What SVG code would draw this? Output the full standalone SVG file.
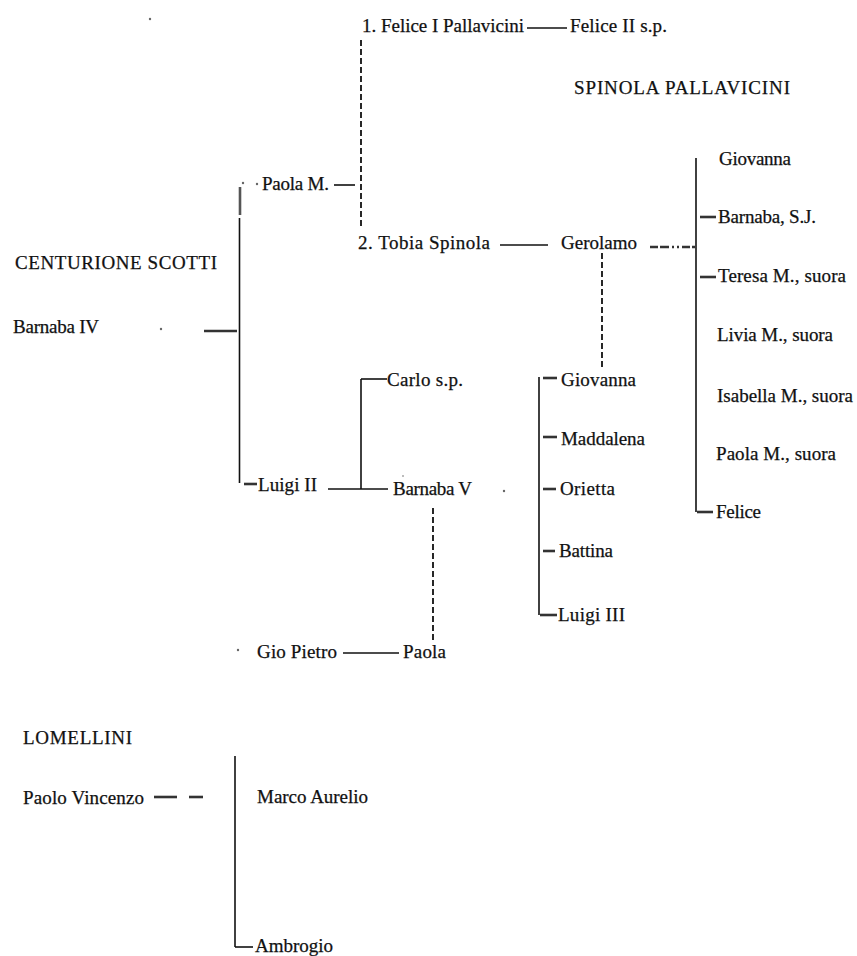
<svg xmlns="http://www.w3.org/2000/svg" width="857" height="956" viewBox="0 0 857 956">
<style>
.t text{font-size:19px;fill:#111;stroke:#111;stroke-width:0.25}
.ln{stroke:#111;stroke-width:1.6;fill:none}
.tk{stroke:#333;stroke-width:2.6;fill:none}
.ds{stroke:#111;stroke-width:1.8;fill:none;stroke-dasharray:6,3}
.dt{fill:#666}
</style>
<rect width="857" height="956" fill="#fff"/>
<g id="connectors">
  <line class="ln" x1="527" y1="28" x2="567" y2="28"/>
  <line class="ds" x1="361" y1="40" x2="361" y2="227"/>
  <line class="ln" x1="334" y1="185" x2="355" y2="185"/>
  <line x1="240" y1="187" x2="240" y2="215" stroke="#555" stroke-width="2.6"/>
  <line class="ln" x1="239.5" y1="218" x2="239.5" y2="483"/>
  <line class="tk" x1="244" y1="484" x2="257" y2="484"/>
  <line class="tk" x1="204" y1="331" x2="237" y2="331"/>
  <line class="ln" x1="500" y1="245" x2="548" y2="245"/>
  <line x1="650" y1="247" x2="695" y2="247" stroke="#333" stroke-width="2.4" stroke-dasharray="8,2,9,3,2,3,2,3"/>
  <line class="ln" x1="696" y1="158" x2="696" y2="512"/>
  <line class="tk" x1="700" y1="217" x2="716" y2="217"/>
  <line class="tk" x1="700" y1="277" x2="716" y2="277"/>
  <line class="tk" x1="697" y1="512" x2="713" y2="512"/>
  <line class="ds" x1="602" y1="253" x2="602" y2="368" stroke-dasharray="5,2"/>
  <line class="ln" x1="539" y1="377" x2="539" y2="615"/>
  <line class="tk" x1="543" y1="378" x2="557" y2="378"/>
  <line class="tk" x1="543" y1="437" x2="557" y2="437"/>
  <line class="tk" x1="543" y1="489" x2="556" y2="489"/>
  <line class="tk" x1="543" y1="551" x2="555" y2="551"/>
  <line class="tk" x1="540" y1="615" x2="557" y2="615"/>
  <line class="ln" x1="328" y1="489" x2="388" y2="489"/>
  <line class="ln" x1="361" y1="379" x2="361" y2="489"/>
  <line class="ln" x1="361" y1="379" x2="387" y2="379"/>
  <line class="ds" x1="433" y1="508" x2="433" y2="641"/>
  <line class="ln" x1="343" y1="653" x2="399" y2="653"/>
  <line class="tk" x1="154" y1="797" x2="177" y2="797"/>
  <line class="tk" x1="189" y1="797" x2="203" y2="797"/>
  <line class="ln" x1="235" y1="756" x2="235" y2="947"/>
  <line class="ln" x1="235" y1="947" x2="253" y2="947"/>
</g>
<g id="dots">
  <circle class="dt" cx="150" cy="19" r="1.2"/>
  <circle class="dt" cx="243" cy="183" r="1.2"/>
  <circle class="dt" cx="257" cy="184" r="1.2"/>
  <circle class="dt" cx="161" cy="329" r="1.2"/>
  <circle class="dt" cx="504" cy="491" r="1.2"/>
  <circle class="dt" cx="403" cy="476" r="0.8"/>
  <circle class="dt" cx="238" cy="650" r="1.2"/>
</g>
<g class="t" font-family="'Liberation Serif', 'DejaVu Serif', 'Times New Roman', serif">
<g id="felice1"><text x="362" y="32" textLength="162">1.  Felice I Pallavicini</text></g>
<g id="felice2"><text x="570" y="32" textLength="97">Felice II s.p.</text></g>
<g id="title-spinola"><text x="574" y="94" textLength="216">SPINOLA PALLAVICINI</text></g>
<g id="paolaM"><text x="262" y="190" textLength="67">Paola M.</text></g>
<g id="tobia"><text x="358" y="249" textLength="132">2.  Tobia Spinola</text></g>
<g id="gerolamo"><text x="561" y="249" textLength="76">Gerolamo</text></g>
<g id="giovanna-r"><text x="719" y="165" textLength="72">Giovanna</text></g>
<g id="barnabaSJ"><text x="718" y="223" textLength="98">Barnaba, S.J.</text></g>
<g id="teresa"><text x="718" y="282" textLength="128">Teresa M., suora</text></g>
<g id="livia"><text x="717" y="341" textLength="116">Livia M., suora</text></g>
<g id="isabella"><text x="717" y="402" textLength="136">Isabella M., suora</text></g>
<g id="paolaSuora"><text x="716" y="460" textLength="120">Paola M., suora</text></g>
<g id="felice-r"><text x="716" y="518" textLength="45">Felice</text></g>
<g id="giovanna-m"><text x="561" y="386" textLength="75">Giovanna</text></g>
<g id="maddalena"><text x="561" y="445" textLength="84">Maddalena</text></g>
<g id="orietta"><text x="560" y="495" textLength="55">Orietta</text></g>
<g id="battina"><text x="559" y="557" textLength="54">Battina</text></g>
<g id="luigi3"><text x="558" y="621" textLength="67">Luigi III</text></g>
<g id="title-centurione"><text x="15" y="269" textLength="202">CENTURIONE  SCOTTI</text></g>
<g id="barnaba4"><text x="13" y="333" textLength="86">Barnaba IV</text></g>
<g id="carlo"><text x="387" y="386" textLength="76">Carlo s.p.</text></g>
<g id="luigi2"><text x="258" y="491" textLength="59">Luigi II</text></g>
<g id="barnaba5"><text x="393" y="495" textLength="79">Barnaba V</text></g>
<g id="gioPietro"><text x="257" y="658" textLength="80">Gio Pietro</text></g>
<g id="paola-b"><text x="403" y="658" textLength="43">Paola</text></g>
<g id="title-lomellini"><text x="23" y="744" textLength="109">LOMELLINI</text></g>
<g id="paoloVincenzo"><text x="23" y="804" textLength="121">Paolo Vincenzo</text></g>
<g id="marcoAurelio"><text x="257" y="803" textLength="111">Marco Aurelio</text></g>
<g id="ambrogio"><text x="255" y="952" textLength="78">Ambrogio</text></g>
</g>
</svg>
